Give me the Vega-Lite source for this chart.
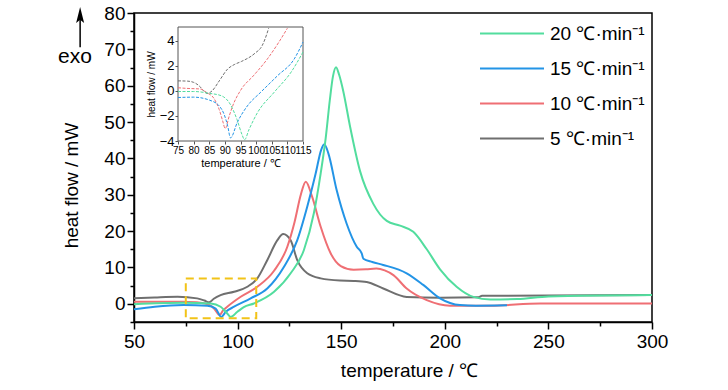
{
  "$schema": "https://vega.github.io/schema/vega-lite/v6.json",
  "width": 518,
  "height": 309,
  "autosize": {"type": "none"},
  "padding": {"left": 134, "top": 13, "right": 76, "bottom": 68},
  "background": "white",
  "config": {
    "font": "Liberation Sans",
    "view": {"stroke": "#000", "strokeWidth": 1.5},
    "axis": {"domainColor": "#000", "tickColor": "#000", "labelColor": "#000", "titleColor": "#000", "grid": false, "titleFontWeight": "normal", "labelFont": "Liberation Sans", "titleFont": "Liberation Sans"},
    "legend": {"labelFont": "Liberation Sans", "labelColor": "#000"}
  },
  "datasets": {
    "main": [
      {"rate": "5", "t": 50, "v": 1.5}, {"rate": "5", "t": 60, "v": 1.75}, {"rate": "5", "t": 71, "v": 1.95}, {"rate": "5", "t": 80.5, "v": 1.5}, {"rate": "5", "t": 84, "v": 0.9}, {"rate": "5", "t": 86.2, "v": 0.4}, {"rate": "5", "t": 88.5, "v": 1.4}, {"rate": "5", "t": 91.8, "v": 2.4}, {"rate": "5", "t": 98.3, "v": 3.3}, {"rate": "5", "t": 104.7, "v": 4.7}, {"rate": "5", "t": 109.5, "v": 7.0}, {"rate": "5", "t": 114.3, "v": 12.0}, {"rate": "5", "t": 119.2, "v": 17.5}, {"rate": "5", "t": 122, "v": 19.2}, {"rate": "5", "t": 125.6, "v": 17.5}, {"rate": "5", "t": 128.8, "v": 12.0}, {"rate": "5", "t": 133.6, "v": 8.4}, {"rate": "5", "t": 140.1, "v": 7.0}, {"rate": "5", "t": 149.4, "v": 6.4}, {"rate": "5", "t": 156, "v": 6.3}, {"rate": "5", "t": 162.3, "v": 6.0}, {"rate": "5", "t": 170.3, "v": 4.2}, {"rate": "5", "t": 181.6, "v": 1.9}, {"rate": "5", "t": 197.7, "v": 1.7}, {"rate": "5", "t": 216, "v": 1.8}, {"rate": "5", "t": 218, "v": 2.2}, {"rate": "5", "t": 250, "v": 2.3}, {"rate": "5", "t": 300, "v": 2.4},
      {"rate": "10", "t": 50, "v": 0.55}, {"rate": "10", "t": 65, "v": 0.6}, {"rate": "10", "t": 74, "v": 0.55}, {"rate": "10", "t": 82, "v": 0.3}, {"rate": "10", "t": 86, "v": -0.2}, {"rate": "10", "t": 88.5, "v": -1.2}, {"rate": "10", "t": 91.3, "v": -3.1}, {"rate": "10", "t": 93, "v": -1.8}, {"rate": "10", "t": 95, "v": -0.8}, {"rate": "10", "t": 101.5, "v": 1.95}, {"rate": "10", "t": 109.5, "v": 4.7}, {"rate": "10", "t": 117.6, "v": 9.1}, {"rate": "10", "t": 124, "v": 15.7}, {"rate": "10", "t": 127.5, "v": 22.5}, {"rate": "10", "t": 130.5, "v": 30.0}, {"rate": "10", "t": 132.9, "v": 33.6}, {"rate": "10", "t": 136, "v": 29.4}, {"rate": "10", "t": 140.1, "v": 21.2}, {"rate": "10", "t": 144.9, "v": 13.9}, {"rate": "10", "t": 149.8, "v": 10.4}, {"rate": "10", "t": 156, "v": 9.4}, {"rate": "10", "t": 162, "v": 9.5}, {"rate": "10", "t": 167, "v": 9.7}, {"rate": "10", "t": 171, "v": 9.2}, {"rate": "10", "t": 175.2, "v": 7.9}, {"rate": "10", "t": 181.6, "v": 4.2}, {"rate": "10", "t": 191.3, "v": 1.0}, {"rate": "10", "t": 202.5, "v": -0.5}, {"rate": "10", "t": 222, "v": -0.5}, {"rate": "10", "t": 246, "v": 0.1}, {"rate": "10", "t": 300, "v": 0.1},
      {"rate": "15", "t": 50, "v": -1.5}, {"rate": "15", "t": 60, "v": -0.8}, {"rate": "15", "t": 74, "v": -0.35}, {"rate": "15", "t": 85.4, "v": -0.55}, {"rate": "15", "t": 89.4, "v": -1.3}, {"rate": "15", "t": 92.1, "v": -3.6}, {"rate": "15", "t": 94.3, "v": -2.2}, {"rate": "15", "t": 98.3, "v": -0.8}, {"rate": "15", "t": 106.3, "v": 1.5}, {"rate": "15", "t": 114.3, "v": 4.2}, {"rate": "15", "t": 122.4, "v": 10.2}, {"rate": "15", "t": 128.8, "v": 17.5}, {"rate": "15", "t": 133.6, "v": 26.7}, {"rate": "15", "t": 137.7, "v": 35.9}, {"rate": "15", "t": 140.3, "v": 42.3}, {"rate": "15", "t": 141.8, "v": 43.9}, {"rate": "15", "t": 143.8, "v": 41.4}, {"rate": "15", "t": 147.8, "v": 31.3}, {"rate": "15", "t": 152.6, "v": 22.1}, {"rate": "15", "t": 157.5, "v": 15.7}, {"rate": "15", "t": 159.9, "v": 13.9}, {"rate": "15", "t": 160.7, "v": 12.4}, {"rate": "15", "t": 165, "v": 11.5}, {"rate": "15", "t": 170.3, "v": 10.7}, {"rate": "15", "t": 181.6, "v": 8.4}, {"rate": "15", "t": 189.6, "v": 5.2}, {"rate": "15", "t": 197.7, "v": 1.5}, {"rate": "15", "t": 207.3, "v": -0.35}, {"rate": "15", "t": 215, "v": -0.5}, {"rate": "15", "t": 230, "v": -0.4},
      {"rate": "20", "t": 50, "v": -0.1}, {"rate": "20", "t": 74, "v": 0.3}, {"rate": "20", "t": 87, "v": 0.1}, {"rate": "20", "t": 91.8, "v": -0.8}, {"rate": "20", "t": 94.5, "v": -2.3}, {"rate": "20", "t": 96.7, "v": -3.6}, {"rate": "20", "t": 99.9, "v": -2.2}, {"rate": "20", "t": 103, "v": -0.9}, {"rate": "20", "t": 107.9, "v": 0.1}, {"rate": "20", "t": 117.6, "v": 3.3}, {"rate": "20", "t": 125.6, "v": 8.4}, {"rate": "20", "t": 132, "v": 14.8}, {"rate": "20", "t": 136.8, "v": 24.9}, {"rate": "20", "t": 140.1, "v": 35.9}, {"rate": "20", "t": 142.5, "v": 45.5}, {"rate": "20", "t": 144.5, "v": 56}, {"rate": "20", "t": 146, "v": 62.5}, {"rate": "20", "t": 147.5, "v": 65.1}, {"rate": "20", "t": 149, "v": 63}, {"rate": "20", "t": 151, "v": 58.5}, {"rate": "20", "t": 154.2, "v": 49}, {"rate": "20", "t": 159.1, "v": 36.5}, {"rate": "20", "t": 165.5, "v": 27.5}, {"rate": "20", "t": 172, "v": 22.8}, {"rate": "20", "t": 178.4, "v": 21.5}, {"rate": "20", "t": 184.8, "v": 19.8}, {"rate": "20", "t": 191.3, "v": 15}, {"rate": "20", "t": 197.7, "v": 9.5}, {"rate": "20", "t": 205.7, "v": 4.7}, {"rate": "20", "t": 213.8, "v": 1.9}, {"rate": "20", "t": 222, "v": 1.2}, {"rate": "20", "t": 235, "v": 1.3}, {"rate": "20", "t": 250, "v": 2.0}, {"rate": "20", "t": 300, "v": 2.4}
    ],
    "inset": [
      {"rate": "5", "t": 75, "v": 0.8}, {"rate": "5", "t": 78, "v": 0.78}, {"rate": "5", "t": 80, "v": 0.68}, {"rate": "5", "t": 82, "v": 0.35}, {"rate": "5", "t": 83.2, "v": 0.0}, {"rate": "5", "t": 84.3, "v": -0.2}, {"rate": "5", "t": 85.9, "v": 0.0}, {"rate": "5", "t": 88.2, "v": 0.8}, {"rate": "5", "t": 90.9, "v": 1.75}, {"rate": "5", "t": 93, "v": 2.1}, {"rate": "5", "t": 95.3, "v": 2.35}, {"rate": "5", "t": 99.6, "v": 3.0}, {"rate": "5", "t": 101.9, "v": 3.6}, {"rate": "5", "t": 103.5, "v": 4.6}, {"rate": "5", "t": 104, "v": 5.0},
      {"rate": "10", "t": 75, "v": 0.25}, {"rate": "10", "t": 77.8, "v": 0.2}, {"rate": "10", "t": 82.1, "v": 0.15}, {"rate": "10", "t": 84.3, "v": -0.15}, {"rate": "10", "t": 86.5, "v": -0.6}, {"rate": "10", "t": 88.2, "v": -1.5}, {"rate": "10", "t": 89.3, "v": -2.4}, {"rate": "10", "t": 90.1, "v": -3.0}, {"rate": "10", "t": 91.4, "v": -2.0}, {"rate": "10", "t": 92.5, "v": -1.2}, {"rate": "10", "t": 95.3, "v": 0.15}, {"rate": "10", "t": 99.1, "v": 1.2}, {"rate": "10", "t": 103.6, "v": 2.55}, {"rate": "10", "t": 107.3, "v": 3.9}, {"rate": "10", "t": 110, "v": 5.0},
      {"rate": "15", "t": 75, "v": -0.53}, {"rate": "15", "t": 80, "v": -0.5}, {"rate": "15", "t": 85.2, "v": -0.75}, {"rate": "15", "t": 88.2, "v": -1.2}, {"rate": "15", "t": 89.8, "v": -1.9}, {"rate": "15", "t": 90.9, "v": -2.8}, {"rate": "15", "t": 91.8, "v": -3.75}, {"rate": "15", "t": 94, "v": -2.5}, {"rate": "15", "t": 97.2, "v": -1.2}, {"rate": "15", "t": 101.5, "v": -0.1}, {"rate": "15", "t": 106.8, "v": 1.2}, {"rate": "15", "t": 112.2, "v": 2.55}, {"rate": "15", "t": 115, "v": 3.9},
      {"rate": "20", "t": 75, "v": -0.05}, {"rate": "20", "t": 80, "v": -0.05}, {"rate": "20", "t": 85.2, "v": -0.2}, {"rate": "20", "t": 89, "v": -0.4}, {"rate": "20", "t": 91.8, "v": -1.1}, {"rate": "20", "t": 93.9, "v": -2.3}, {"rate": "20", "t": 95.5, "v": -3.5}, {"rate": "20", "t": 96.3, "v": -3.9}, {"rate": "20", "t": 97.7, "v": -3.1}, {"rate": "20", "t": 100.4, "v": -1.75}, {"rate": "20", "t": 105.8, "v": -0.1}, {"rate": "20", "t": 111.2, "v": 1.5}, {"rate": "20", "t": 115, "v": 3.1}
    ]
  },
  "layer": [
    {
      "layer": [
        {
          "data": {"name": "main"},
          "mark": {"type": "line", "interpolate": "monotone", "strokeWidth": 2},
          "encoding": {
            "x": {"field": "t", "type": "quantitative",
              "scale": {"domain": [50, 300], "nice": false, "zero": false},
              "axis": {"values": [50, 75, 100, 125, 150, 175, 200, 225, 250, 275, 300], "tickCount": 50, "format": "d",
                "labelExpr": "datum.value % 50 === 0 ? datum.label : ''",
                "tickSize": {"condition": {"test": "datum.value % 50 === 0", "value": 7}, "value": 4},
                "labelFontSize": 19, "labelPadding": 3, "labelOverlap": false, "labelFlush": false,
                "title": "temperature / ℃", "titleFontSize": 19, "titlePadding": 10, "titleX": 275,
                "domainWidth": 1.5, "tickWidth": 1.5}},
            "y": {"field": "v", "type": "quantitative",
              "scale": {"domain": [-5, 80], "nice": false, "zero": false},
              "axis": {"orient": "left", "values": [-5, 0, 5, 10, 15, 20, 25, 30, 35, 40, 45, 50, 55, 60, 65, 70, 75, 80], "tickCount": 50, "format": "d",
                "labelExpr": "datum.value % 10 === 0 ? datum.label : ''",
                "tickSize": {"condition": {"test": "datum.value % 10 === 0", "value": 7}, "value": 4},
                "labelFontSize": 19, "labelPadding": 2, "labelOverlap": false, "labelFlush": false,
                "title": "heat flow / mW", "titleFontSize": 19, "titlePadding": 22, "titleY": 172,
                "domainWidth": 1.5, "tickWidth": 1.5}},
            "color": {"field": "rate", "type": "nominal",
              "scale": {"domain": ["20", "15", "10", "5"], "range": ["#52dd9e", "#2394e6", "#ef6f74", "#6f6f6f"]},
              "legend": {"orient": "none", "legendX": 345, "legendY": 3, "title": null,
                "symbolType": "stroke", "symbolSize": 4096, "symbolStrokeWidth": 2, "clipHeight": 35,
                "labelFontSize": 19, "labelExpr": "datum.label + ' ℃·min⁻¹'", "rowPadding": 0, "labelOffset": 5}}
          }
        },
        {
          "data": {"values": [{}]},
          "mark": {"type": "rect", "fill": null, "fillOpacity": 0, "stroke": "#f2c318", "strokeWidth": 2, "strokeDash": [8, 5]},
          "encoding": {"x": {"datum": 75, "type": "quantitative"}, "x2": {"datum": 109}, "y": {"datum": -4, "type": "quantitative"}, "y2": {"datum": 7}}
        },
        {
          "data": {"values": [{}]},
          "mark": {"type": "text", "text": "exo", "fontSize": 21, "align": "center", "baseline": "alphabetic", "color": "#000"},
          "encoding": {"x": {"datum": 21.5, "type": "quantitative"}, "y": {"datum": 66.2, "type": "quantitative"}}
        },
        {
          "data": {"values": [{}]},
          "mark": {"type": "rule", "strokeWidth": 1.5, "color": "#000"},
          "encoding": {"x": {"datum": 24, "type": "quantitative"}, "y": {"datum": 70.6, "type": "quantitative"}, "y2": {"datum": 79.5}}
        },
        {
          "data": {"values": [{}]},
          "mark": {"type": "point", "shape": "M0,-1L0.5,1L0,0.6L-0.5,1Z", "size": 256, "filled": true, "color": "#000", "opacity": 1},
          "encoding": {"x": {"datum": 24, "type": "quantitative"}, "y": {"datum": 79.45, "type": "quantitative"}}
        }
      ]
    },
    {
      "layer": [
        {
          "data": {"values": [{}]},
          "mark": {"type": "rect", "fill": "white", "stroke": "#555", "strokeWidth": 1},
          "encoding": {"x": {"datum": 75, "type": "quantitative"}, "x2": {"datum": 115}, "y": {"datum": -4, "type": "quantitative"}, "y2": {"datum": 5.1}}
        },
        {
          "data": {"name": "inset"},
          "mark": {"type": "line", "interpolate": "monotone", "strokeWidth": 1, "strokeDash": [3, 1.5], "clip": true},
          "encoding": {
            "x": {"field": "t", "type": "quantitative",
              "scale": {"domain": [75, 115], "range": [44, 169], "nice": false, "zero": false},
              "axis": {"orient": "bottom", "offset": -181, "values": [75, 80, 85, 90, 95, 100, 105, 110, 115], "tickCount": 50, "format": "d",
                "labelFont": "'Liberation Sans Narrow', 'Arial Narrow', 'Liberation Sans'",
                "labelFontSize": 10, "tickSize": 3, "labelPadding": 1, "domain": false, "labelOverlap": false, "labelFlush": false,
                "title": "temperature / ℃", "titleFontSize": 11, "titlePadding": 2, "tickColor": "#555"}},
            "y": {"field": "v", "type": "quantitative",
              "scale": {"domain": [-4, 5.1], "range": [128, 14], "nice": false, "zero": false},
              "axis": {"orient": "left", "offset": -44, "values": [-4, -2, 0, 2, 4], "tickCount": 50, "format": "d",
                "labelFontSize": 13, "tickSize": 3, "labelPadding": 1, "domain": false, "labelOverlap": false, "labelFlush": false,
                "title": "heat flow / mW", "titleFontSize": 10, "titlePadding": 3, "tickColor": "#555"}},
            "color": {"field": "rate", "type": "nominal"}
          }
        }
      ]
    }
  ],
  "resolve": {"scale": {"x": "independent", "y": "independent"}}
}
